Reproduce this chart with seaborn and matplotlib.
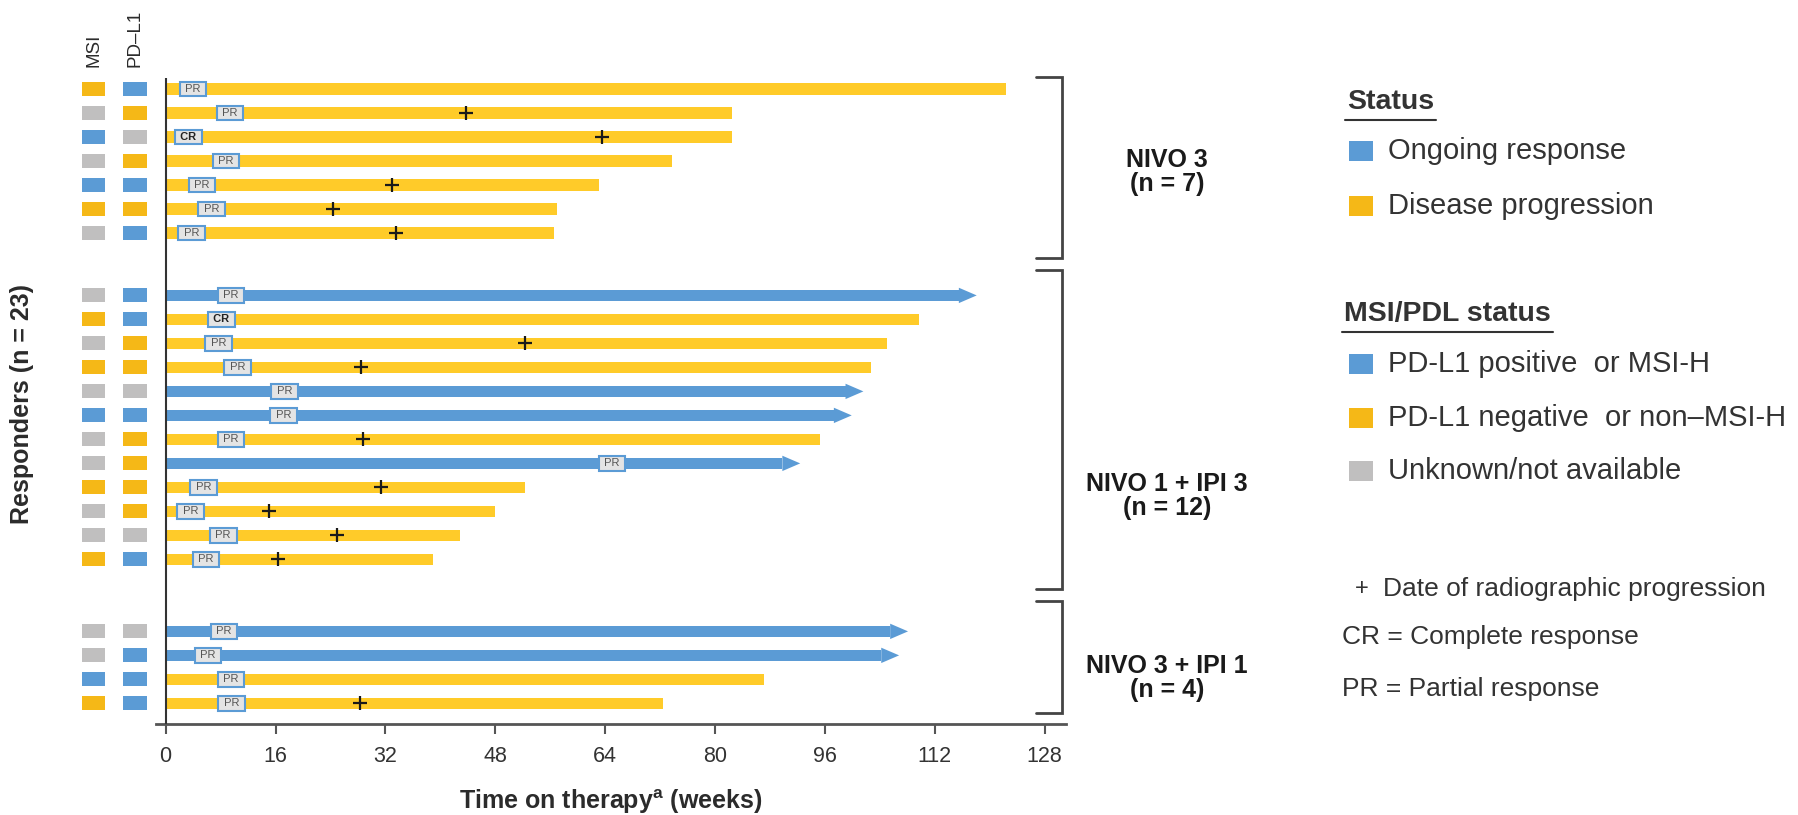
"""Swimmer plot of responders by treatment arm."""
import numpy as np
import pandas as pd

import matplotlib
matplotlib.use("Agg")
import matplotlib.pyplot as plt
from matplotlib.patches import Rectangle
import seaborn as sns

# groups
groups = ["NIVO 3\n(n = 7)", "NIVO 1 + IPI 3\n(n = 12)", "NIVO 3 + IPI 1\n(n = 4)"]

# NIVO 3
n3_weeks = [122.4, 82.4, 82.4, 73.8, 63.1, 57.0, 56.6]
n3_ongoing = [False, False, False, False, False, False, False]
n3_resp = ["PR", "PR", "CR", "PR", "PR", "PR", "PR"]
n3_resp_wk = [4.0, 9.4, 3.3, 8.8, 5.3, 6.7, 3.8]
n3_prog = [np.nan, 43.8, 63.6, np.nan, 32.9, 24.3, 33.6]
n3_msi = ["neg", "unk", "pos", "unk", "pos", "neg", "unk"]
n3_pdl1 = ["pos", "neg", "unk", "neg", "pos", "neg", "pos"]

# NIVO 1 + IPI 3
n1i3_weeks = [118.1, 109.7, 105.1, 102.7, 101.6, 99.9, 95.3, 92.4, 52.3, 47.9, 42.8, 39.0]
n1i3_ongoing = [True, False, False, False, True, True, False, True, False, False, False, False]
n1i3_resp = ["PR", "CR", "PR", "PR", "PR", "PR", "PR", "PR", "PR", "PR", "PR", "PR"]
n1i3_resp_wk = [9.5, 8.1, 7.7, 10.5, 17.3, 17.2, 9.5, 65.0, 5.5, 3.6, 8.4, 5.9]
n1i3_prog = [np.nan, np.nan, 52.4, 28.5, np.nan, np.nan, 28.8, np.nan, 31.3, 15.1, 24.9, 16.4]
n1i3_msi = ["unk", "neg", "unk", "neg", "unk", "pos", "unk", "unk", "neg", "unk", "unk", "neg"]
n1i3_pdl1 = ["pos", "pos", "neg", "neg", "unk", "pos", "neg", "neg", "neg", "neg", "unk", "pos"]

# NIVO 3 + IPI 1
n3i1_weeks = [108.1, 106.8, 87.1, 72.4]
n3i1_ongoing = [True, True, False, False]
n3i1_resp = ["PR", "PR", "PR", "PR"]
n3i1_resp_wk = [8.5, 6.2, 9.5, 9.6]
n3i1_prog = [np.nan, np.nan, np.nan, 28.3]
n3i1_msi = ["unk", "unk", "pos", "neg"]
n3i1_pdl1 = ["unk", "pos", "pos", "pos"]

xticks = [0, 16, 32, 48, 64, 80, 96, 112, 128]

# colours
BAR_BLUE = "#5B9BD5"
BAR_YELLOW = "#FFCB29"
SQ = {"pos": "#5B9BD5", "neg": "#F5B817", "unk": "#C0BFBF"}
TXT = "#2b2b2b"
LEG = "#333333"

# layout: first row of each group (row units, 24 px per row)
group_start = [0.0, 8.6, 22.6]
label_rows = [3.46, 16.96, 24.55]
HEAD = 2.6  # arrow head length, weeks

frames = []
parts = [
    (n3_weeks, n3_ongoing, n3_resp, n3_resp_wk, n3_prog, n3_msi, n3_pdl1),
    (n1i3_weeks, n1i3_ongoing, n1i3_resp, n1i3_resp_wk, n1i3_prog, n1i3_msi, n1i3_pdl1),
    (n3i1_weeks, n3i1_ongoing, n3i1_resp, n3i1_resp_wk, n3i1_prog, n3i1_msi, n3i1_pdl1),
]
for g, (wk, ong, rs, rw, pg, ms, pd_) in enumerate(parts):
    frames.append(pd.DataFrame({
        "group": g,
        "row": group_start[g] + np.arange(len(wk)),
        "weeks": wk, "ongoing": ong, "resp": rs, "resp_wk": rw,
        "prog": pg, "msi": ms, "pdl1": pd_,
    }))
df = pd.concat(frames, ignore_index=True)
df["status"] = np.where(df.ongoing, "Ongoing response", "Disease progression")
df["bar_end"] = np.where(df.ongoing, df.weeks - HEAD, df.weeks)

sns.set_theme(style="white")
plt.rcParams["font.family"] = ["Liberation Sans", "DejaVu Sans"]
plt.rcParams["mathtext.fontset"] = "custom"
plt.rcParams["mathtext.rm"] = "Liberation Sans"
plt.rcParams["mathtext.bf"] = "Liberation Sans:bold"

W, H = 1798, 815
fig = plt.figure(figsize=(W / 100, H / 100), dpi=100)


def px_axes(x0, y0, x1, y1, **kw):
    return fig.add_axes([x0 / W, 1 - y1 / H, (x1 - x0) / W, (y1 - y0) / H], **kw)


ax_leg = px_axes(0, 0, W, H)
ax_leg.set_xlim(0, W)
ax_leg.set_ylim(H, 0)
ax_leg.axis("off")

ax = px_axes(156, 78, 1066, 724)
sns.barplot(data=df, x="bar_end", y="row", hue="status", orient="y",
            native_scale=True, width=0.48, dodge=False, errorbar=None,
            palette={"Ongoing response": BAR_BLUE, "Disease progression": BAR_YELLOW},
            saturation=1, linewidth=0, legend=False, ax=ax)

# arrow heads for ongoing responses
for _, r in df[df.ongoing].iterrows():
    ax.fill([r.weeks - HEAD, r.weeks, r.weeks - HEAD],
            [r.row - 0.32, r.row, r.row + 0.32], color=BAR_BLUE, lw=0, zorder=3)

# progression dates
prog = df.dropna(subset=["prog"])
sns.scatterplot(data=prog, x="prog", y="row", marker="+", s=95, color="#1a1a1a",
                linewidth=1.6, ax=ax, zorder=5, legend=False)

# response boxes
for _, r in df.iterrows():
    bold = r.resp == "CR"
    ax.text(r.resp_wk, r.row, f" {r.resp} ", ha="center", va="center",
            fontsize=8, fontweight="bold" if bold else "normal",
            color="#222222" if bold else "#555555", zorder=6,
            bbox=dict(boxstyle="square,pad=0.22", fc="#E4E4E4", ec=BAR_BLUE, lw=1.5))

ax.axvline(0, color="#333333", lw=1.5, zorder=4)
ax.set_xlim(-1.4, 131.1)
ax.set_ylim(26.46, -0.46)
ax.set_xticks(xticks)
ax.set_yticks([])
for s in ["left", "top", "right"]:
    ax.spines[s].set_visible(False)
ax.spines["bottom"].set_color("#555555")
ax.spines["bottom"].set_linewidth(2)
ax.tick_params(axis="x", direction="out", length=7, width=1.5, color="#555555",
               labelsize=15.5, pad=8.5, labelcolor="#333333", bottom=True)
ax.set_xlabel(r"Time on therapy$^{\mathbf{a}}$ (weeks)", fontsize=18,
              fontweight="bold", color=TXT, labelpad=15)
ax.set_ylabel("")

# brackets and group labels
first = [df[df.group == g].row.min() for g in range(3)]
last = [df[df.group == g].row.max() for g in range(3)]
tops = [first[0] - 0.5] + [(last[g - 1] + first[g]) / 2 + 0.25 for g in (1, 2)]
bots = [(last[g] + first[g + 1]) / 2 - 0.25 for g in (0, 1)] + [last[2] + 0.4]
for g in range(3):
    ax.plot([126.8, 130.5, 130.5, 126.8], [tops[g], tops[g], bots[g], bots[g]],
            color="#444444", lw=2, clip_on=False, solid_joinstyle="miter")
    ax.text(145.8, label_rows[g], groups[g], ha="center", va="center",
            fontsize=18, fontweight="bold", color="#1a1a1a", clip_on=False,
            linespacing=1.0)

# MSI / PD-L1 squares
ax_sq = px_axes(60, 78, 150, 724, sharey=ax)
for c, col in enumerate(["msi", "pdl1"]):
    ax_sq.barh(df.row, 0.56, left=c - 0.28, height=0.58,
               color=[SQ[v] for v in df[col]], lw=0)
ax_sq.set_xlim(-0.807, 1.361)
ax_sq.set_ylim(26.46, -0.46)
ax_sq.xaxis.tick_top()
ax_sq.set_xticks([0, 1])
ax_sq.set_xticklabels(["MSI", "PD\u2013L1"], rotation=90, fontsize=13.5, color=TXT)
ax_sq.tick_params(axis="x", length=0, pad=8, top=True, bottom=False)
ax_sq.tick_params(axis="y", left=False, labelleft=False)
for s in ax_sq.spines.values():
    s.set_visible(False)
ax_sq.set_ylabel("Responders (n = 23)", fontsize=18, fontweight="bold", color=TXT,
                 va="center")
ax_sq.yaxis.set_label_coords((22 - 60) / 90, 1 - (404 - 78) / 646)

# legend
fig.canvas.draw()
renderer = fig.canvas.get_renderer()


def header(x, y, txt):
    t = ax_leg.text(x, y, txt, fontsize=20.5, fontweight="bold", color=LEG,
                    ha="left", va="center")
    bb = t.get_window_extent(renderer).transformed(ax_leg.transData.inverted())
    ax_leg.plot([x - 2, bb.x1 + 2], [y + 18, y + 18], color=LEG, lw=1.5)


def item(y, color, txt):
    ax_leg.add_patch(Rectangle((1349, y - 10), 24, 20, color=color, lw=0))
    ax_leg.text(1388, y, txt, fontsize=21, color=LEG, ha="left", va="center")


header(1347, 102, "Status")
item(151, BAR_BLUE, "Ongoing response")
item(206, SQ["neg"], "Disease progression")
header(1344, 314, "MSI/PDL status")
item(364, SQ["pos"], "PD-L1 positive  or MSI-H")
item(418, SQ["neg"], "PD-L1 negative  or non\u2013MSI-H")
item(471, SQ["unk"], "Unknown/not available")
ax_leg.text(1362, 589, "+", fontsize=17, color=LEG, ha="center", va="center")
ax_leg.text(1383, 589, "Date of radiographic progression", fontsize=19,
            color=LEG, ha="left", va="center")
ax_leg.text(1342, 637, "CR = Complete response", fontsize=19, color=LEG,
            ha="left", va="center")
ax_leg.text(1342, 689, "PR = Partial response", fontsize=19, color=LEG,
            ha="left", va="center")

fig.savefig("out.png", dpi=100)
